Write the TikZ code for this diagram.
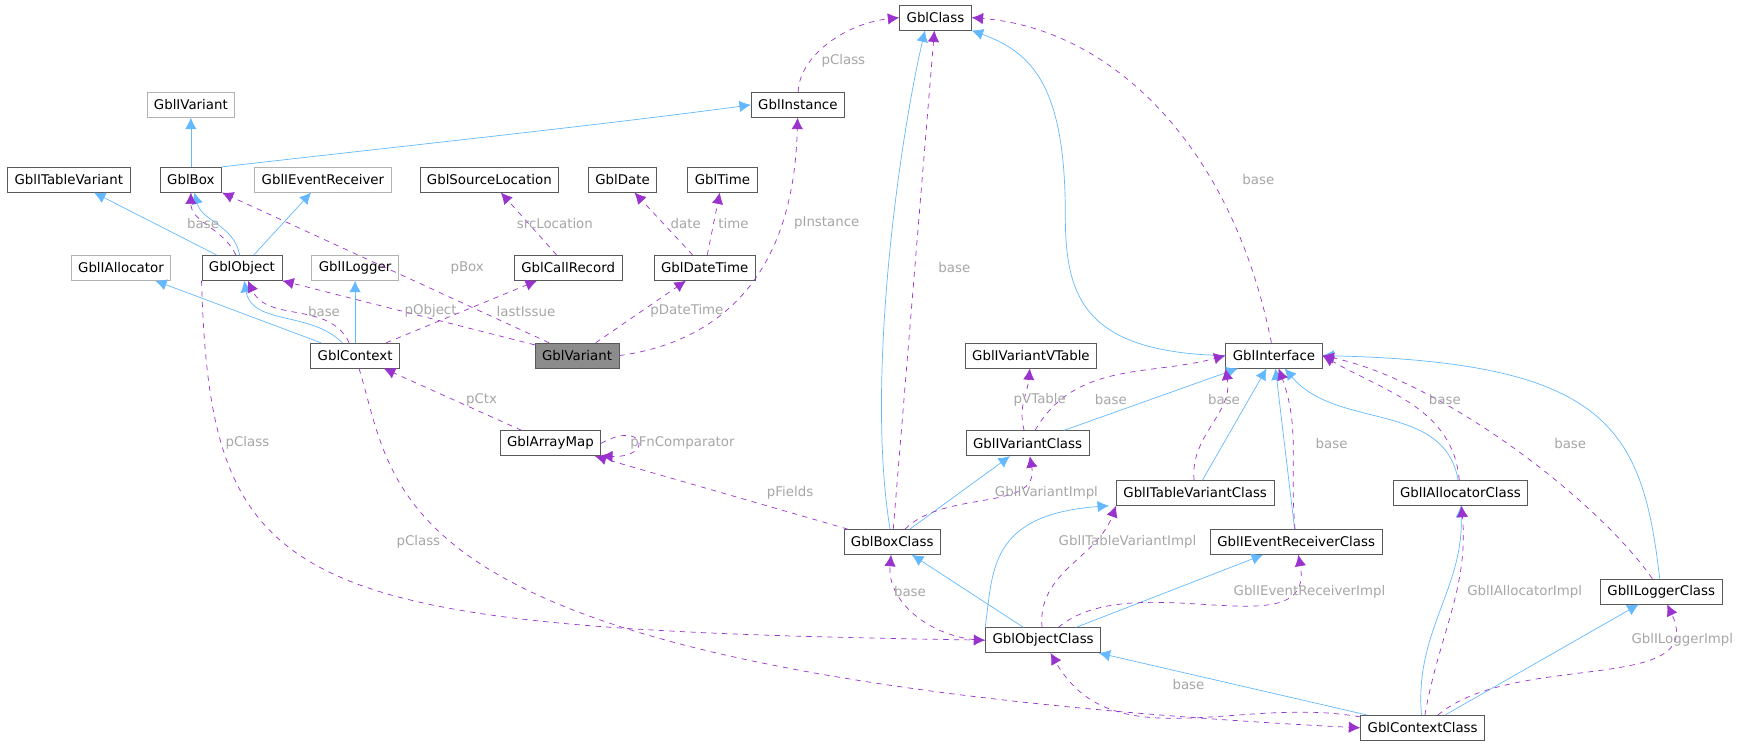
\documentclass[tikz,border=0pt]{standalone}
\usepackage{fontspec}
\setmainfont{DejaVu Sans}
\usetikzlibrary{arrows.meta}
\definecolor{inhblue}{HTML}{63B8FF}
\definecolor{usepurple}{HTML}{9A32CD}
\tikzset{
  cls/.style={draw=black!65,fill=white,rectangle,inner xsep=4pt,minimum height=0.5cm,font=\fontsize{7.6}{9}\selectfont},
  ext/.style={cls,draw=black!30},
  inh/.style={color=inhblue,-{Latex[length=6.5pt,width=6.5pt]}},
  use/.style={color=usepurple,dashed,-{Latex[length=6.5pt,width=6.5pt]}},
  lbl/.style={text=black!35,font=\fontsize{7.6}{9}\selectfont,inner sep=1pt},
}
\begin{document}
\begin{tikzpicture}[x=0.0222cm,y=-0.009537cm]
\useasboundingbox (0,0) rectangle (1568,1568);
\node[cls] (cls) at (843,37) {GblClass};
\node[cls] (inst) at (719,220) {GblInstance};
\node[ext] (ivar) at (172,220) {GblIVariant};
\node[cls] (itv) at (62,377) {GblITableVariant};
\node[cls] (box) at (172,377) {GblBox};
\node[ext] (iev) at (291,377) {GblIEventReceiver};
\node[cls] (srcloc) at (441,377) {GblSourceLocation};
\node[cls] (date) at (561,377) {GblDate};
\node[cls] (time) at (651,377) {GblTime};
\node[ext] (ialloc) at (109,562) {GblIAllocator};
\node[cls] (obj) at (218,562) {GblObject};
\node[ext] (ilog) at (320,562) {GblILogger};
\node[cls] (callrec) at (512,562) {GblCallRecord};
\node[cls] (dt) at (635,562) {GblDateTime};
\node[cls] (ctx) at (320,746) {GblContext};
\node[cls,fill=black!45] (var) at (520,746) {GblVariant};
\node[cls] (vtbl) at (929,746) {GblIVariantVTable};
\node[cls] (ifc) at (1148,746) {GblInterface};
\node[cls] (amap) at (496,930) {GblArrayMap};
\node[cls] (ivarc) at (926,930) {GblIVariantClass};
\node[cls] (itvc) at (1077,1034) {GblITableVariantClass};
\node[cls] (iallocc) at (1316,1034) {GblIAllocatorClass};
\node[cls] (boxc) at (804,1137) {GblBoxClass};
\node[cls] (ievc) at (1168,1137) {GblIEventReceiverClass};
\node[cls] (ilogc) at (1497,1241) {GblILoggerClass};
\node[cls] (objc) at (940,1343) {GblObjectClass};
\node[cls] (ctxc) at (1282,1527) {GblContextClass};
% inheritance
\draw[inh] (box) edge (ivar);
\draw[inh] (box.north east) .. controls (350,310) and (550,260) .. (inst.west);
\draw[inh] (obj) edge (itv);
\draw[inh] (obj) to[out=100,in=-75] (box);
\draw[inh] (obj) edge (iev);
\draw[inh] (ctx) edge (ialloc);
\draw[inh] (ctx) to[out=135,in=-80] (obj);
\draw[inh] (ctx) edge (ilog);
\draw[inh] (boxc) .. controls (780,800) and (810,300) .. ([xshift=-6pt]cls.south);
\draw[inh] (ifc.west) .. controls (975,740) and (960,620) .. (960,450) .. controls (960,180) and (930,110) .. (cls.south east);
\draw[inh] (ivarc) edge (ifc);
\draw[inh] (itvc) edge (ifc);
\draw[inh] (ievc) edge (ifc);
\draw[inh] (iallocc) to[out=100,in=-50] (ifc);
\draw[inh] (ilogc) .. controls (1480,900) and (1450,760) .. (ifc.east);
\draw[inh] (boxc) edge (ivarc);
\draw[inh] (objc) edge (boxc);
\draw[inh] (objc.north west) .. controls (895,1200) and (890,1080) .. ([xshift=-4pt]itvc.south west);
\draw[inh] (objc) edge (ievc);
\draw[inh] (ctxc) edge (objc);
\draw[inh] (ctxc) to[out=95,in=-88] (iallocc);
\draw[inh] (ctxc) edge (ilogc);
% usage
\draw[use] (inst) .. controls (720,120) and (760,50) .. (cls.west);
\draw[use] (obj) to[out=115,in=-90] (box);
\draw[use] (callrec) -- (srcloc);
\draw[use] (dt) -- (date);
\draw[use] (dt) -- (time);
\draw[use] (var) -- (box.south east);
\draw[use] (var) -- (obj.south east);
\draw[use] (var) -- (dt);
\draw[use] (var.east) .. controls (640,720) and (715,600) .. (inst);
\draw[use] (ctx) to[out=115,in=-65] (obj);
\draw[use] (ctx) -- (callrec);
\draw[use] (amap) -- (ctx);
\draw[use] (amap.east) .. controls (580,880) and (590,960) .. (amap.south east);
\draw[use] (boxc) -- (amap);
\draw[use] (boxc) -- (cls);
\draw[use] (boxc) to[out=45,in=-80] (ivarc);
\draw[use] (ifc) .. controls (1110,300) and (1000,60) .. (cls.east);
\draw[use] (ivarc) to[out=105,in=-95] (vtbl);
\draw[use] (ivarc) to[out=60,in=195] (ifc.west);
\draw[use] (itvc) to[out=95,in=-80] (ifc.south west);
\draw[use] (ievc) to[out=95,in=-70] (ifc);
\draw[use] (iallocc) to[out=95,in=-30] (ifc.east);
\draw[use] (ilogc) .. controls (1440,1050) and (1300,800) .. (ifc.east);
\draw[use] (objc) to[out=180,in=-95] (boxc);
\draw[use] (objc) to[out=95,in=-110] (itvc.south west);
\draw[use] (objc) to[out=40,in=-80] (ievc);
\draw[use] (obj.south west) .. controls (190,1250) and (260,1320) .. (objc.west);
\draw[use] (ctx) .. controls (360,1050) and (340,1420) .. (ctxc.west);
\draw[use] (ctxc) to[out=170,in=-60] (objc);
\draw[use] (ctxc) to[out=80,in=-85] (iallocc);
\draw[use] (ctxc) to[out=40,in=-65] (ilogc);
% labels
\node[lbl] (l1) at (760,128) {pClass};
\node[lbl] (l2) at (183,468) {base};
\node[lbl] (l3) at (500,468) {srcLocation};
\node[lbl] (l4) at (618,468) {date};
\node[lbl] (l5) at (661,468) {time};
\node[lbl] (l6) at (745,468) {pInstance};
\node[lbl] (l7) at (421,562) {pBox};
\node[lbl] (l8) at (860,562) {base};
\node[lbl] (l9) at (1134,377) {base};
\node[lbl] (l10) at (292,653) {base};
\node[lbl] (l11) at (388,653) {pObject};
\node[lbl] (l12) at (474,653) {lastIssue};
\node[lbl] (l13) at (619,653) {pDateTime};
\node[lbl] (l14) at (434,838) {pCtx};
\node[lbl] (l15) at (937,838) {pVTable};
\node[lbl] (l16) at (1001,838) {base};
\node[lbl] (l17) at (1103,838) {base};
\node[lbl] (l18) at (1302,838) {base};
\node[lbl] (l19) at (223,930) {pClass};
\node[lbl] (l20) at (615,930) {pFnComparator};
\node[lbl] (l21) at (1200,930) {base};
\node[lbl] (l22) at (1415,930) {base};
\node[lbl] (l23) at (712,1034) {pFields};
\node[lbl] (l24) at (943,1034) {GblIVariantImpl};
\node[lbl] (l25) at (377,1137) {pClass};
\node[lbl] (l26) at (1016,1137) {GblITableVariantImpl};
\node[lbl] (l27) at (820,1241) {base};
\node[lbl] (l28) at (1180,1241) {GblIEventReceiverImpl};
\node[lbl] (l29) at (1374,1241) {GblIAllocatorImpl};
\node[lbl] (l30) at (1516,1343) {GblILoggerImpl};
\node[lbl] (l31) at (1071,1436) {base};
\end{tikzpicture}
\end{document}
